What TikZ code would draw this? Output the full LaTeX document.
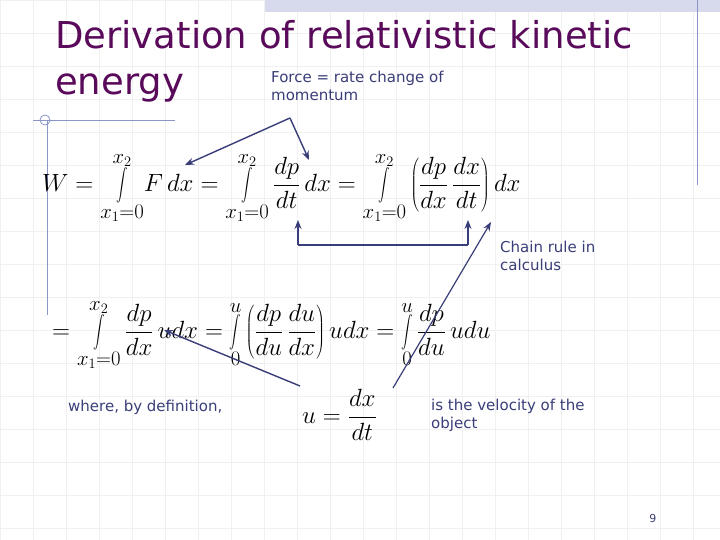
\documentclass[tikz,border=0pt]{standalone}
\usepackage{fontspec}
\setmainfont{DejaVu Sans}
\usetikzlibrary{arrows.meta}
\definecolor{ttl}{HTML}{5A0A5A}
\definecolor{lbl}{HTML}{3A3E78}
\definecolor{deco}{HTML}{8A96C8}
\newcommand{\BI}[2]{\mathop{\vcenter{\hbox{\scalebox{1.15}[1.6]{$\displaystyle\int$}}}}\limits_{#1}^{#2}}
\tikzset{lab/.style={text=lbl,font=\fontsize{15}{18}\selectfont,align=left,inner sep=0pt},
 arr/.style={draw=lbl,line width=1.4pt,-{Stealth[length=9pt,width=7pt]}},
 eq/.style={inner sep=0pt,font=\fontsize{28}{32}\selectfont}}
\begin{document}
\begin{tikzpicture}[x=1pt,y=-1pt]
\useasboundingbox (0,0) rectangle (720,540);
\fill[white] (0,0) rectangle (720,540);
\foreach \i in {0,33,...,720} {\draw[black!6,line width=0.4pt] (\i,0)--(\i,540);}
\foreach \j in {0,33,...,540} {\draw[black!6,line width=0.4pt] (0,\j)--(720,\j);}
\fill[deco!35] (265,0) rectangle (720,12);
\draw[deco,line width=0.8pt] (697,0)--(697,185);
\draw[deco,line width=0.8pt] (33,120)--(175,120);
\draw[deco,line width=0.8pt] (47,120)--(47,315);
\draw[deco,line width=0.8pt] (45,120) circle (5);
\node[anchor=west,text=ttl,font=\fontsize{37}{42}\selectfont,inner sep=0pt] (t1) at (55,35) {Derivation of relativistic kinetic};
\node[anchor=west,text=ttl,font=\fontsize{37}{42}\selectfont,inner sep=0pt] (t2) at (55,88) {energy};
\node[lab,anchor=north west] (force) at (271,71) {Force = rate change of\\momentum};
\node[eq,anchor=west] (e1) at (42,188) {$\displaystyle W=\BI{x_1=0}{x_2}\! F\,dx=\BI{x_1=0}{x_2}\frac{dp}{dt}\,dx=\BI{x_1=0}{x_2}\left(\frac{dp}{dx}\,\frac{dx}{dt}\right)dx$};
\node[eq,anchor=west] (e2) at (52,335) {$\displaystyle =\BI{x_1=0}{x_2}\frac{dp}{dx}\,udx=\BI{0}{u}\left(\frac{dp}{du}\,\frac{du}{dx}\right)udx=\BI{0}{u}\frac{dp}{du}\,udu$};
\node[lab,anchor=west] (where) at (68,407) {where, by definition,};
\node[eq,anchor=west] (udef) at (302,415) {$\displaystyle u=\frac{dx}{dt}$};
\node[lab,anchor=north west] (vel) at (431,399) {is the velocity of the\\object};
\node[lab,anchor=north west] (chain) at (500,241) {Chain rule in\\calculus};
\node[anchor=south east,text=lbl,font=\fontsize{11}{13}\selectfont] (pg) at (660,526) {9};
\coordinate (fa) at (290,118);
\coordinate (fdx) at (185,165);
\coordinate (dp) at (309,160);
\draw[arr] (fa)--(fdx);
\draw[arr] (fa)--(dp);
\coordinate (b1) at (298,245); \coordinate (b2) at (468,245);
\coordinate (b1t) at (298,220); \coordinate (b2t) at (468,220);
\draw[draw=lbl,line width=1.2pt] (b1)--(b2);
\draw[arr,line width=1.2pt] (b1)--(b1t);
\draw[arr,line width=1.2pt] (b2)--(b2t);
\coordinate (ch) at (393,388); \coordinate (cht) at (491,222);
\draw[arr,line width=1.2pt] (ch)--(cht);
\coordinate (wa) at (300,386); \coordinate (wt) at (164,330);
\draw[arr] (wa)--(wt);
\end{tikzpicture}
\end{document}
